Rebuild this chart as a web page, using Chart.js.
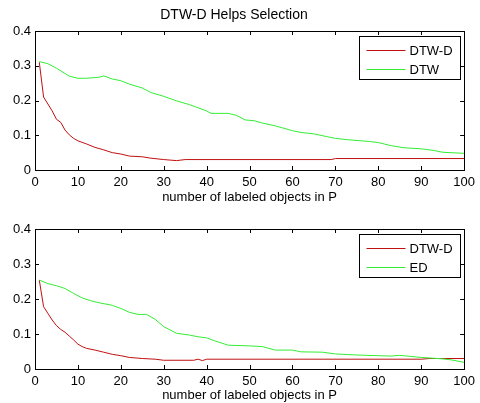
<!DOCTYPE html>
<html lang="en">
<head>
<meta charset="UTF-8">
<title>DTW-D Helps Selection</title>
<script src="https://cdn.jsdelivr.net/npm/chart.js"></script>
<style>
    body { margin: 0; background: #fff; }
    #wrap { position: relative; width: 480px; height: 403px; }
    canvas { position: absolute; left: 0; }
    #top { top: 0; }
    #bottom { top: 205px; }
</style>
</head>
<body>
<div id="wrap">
    <canvas id="top" width="480" height="205"></canvas>
    <canvas id="bottom" width="480" height="198"></canvas>
</div>
<script>
// top panel: DTW-D vs DTW
const topDtwdX = [1, 2, 3, 4, 5, 6, 7, 8, 9, 10, 12, 14, 16, 18, 20, 22, 25, 27, 30, 33, 35, 69, 70, 100];
const topDtwd = [0.31, 0.21, 0.19, 0.17, 0.146, 0.137, 0.115, 0.101, 0.091, 0.084, 0.075, 0.065, 0.058, 0.050, 0.046, 0.040, 0.038, 0.034, 0.030, 0.027, 0.030, 0.030, 0.033, 0.033];
const topDtwX = [1, 3, 5, 8, 10, 12, 15, 16, 18, 20, 22, 25, 27, 30, 33, 36, 40, 41, 45, 47, 49, 51, 53, 56, 58, 60, 62, 65, 68, 70, 73, 78, 80, 83, 86, 90, 93, 95, 100];
const topDtw = [0.312, 0.306, 0.293, 0.27, 0.264, 0.264, 0.267, 0.271, 0.262, 0.257, 0.247, 0.236, 0.223, 0.212, 0.199, 0.188, 0.170, 0.163, 0.163, 0.157, 0.144, 0.142, 0.135, 0.127, 0.120, 0.113, 0.108, 0.104, 0.096, 0.091, 0.087, 0.082, 0.079, 0.070, 0.064, 0.061, 0.056, 0.051, 0.048];

// bottom panel: DTW-D vs ED
const botDtwdX = [1, 2, 3, 4, 5, 6, 7, 8, 9, 10, 11, 12, 14, 16, 18, 20, 22, 25, 28, 30, 37, 38, 39, 40, 90, 92, 100];
const botDtwd = [0.254, 0.178, 0.159, 0.140, 0.124, 0.113, 0.105, 0.094, 0.083, 0.071, 0.064, 0.059, 0.054, 0.048, 0.042, 0.038, 0.033, 0.030, 0.028, 0.025, 0.025, 0.028, 0.024, 0.028, 0.028, 0.030, 0.030];
const botEdX = [1, 3, 5, 7, 9, 11, 13, 15, 18, 20, 22, 24, 26, 28, 30, 33, 36, 38, 40, 42, 45, 50, 53, 56, 60, 62, 67, 70, 75, 80, 83, 85, 90, 95, 97, 100];
const botEd = [0.254, 0.244, 0.238, 0.230, 0.216, 0.203, 0.195, 0.189, 0.182, 0.173, 0.162, 0.156, 0.156, 0.142, 0.121, 0.102, 0.097, 0.092, 0.089, 0.080, 0.068, 0.066, 0.064, 0.054, 0.054, 0.049, 0.048, 0.043, 0.040, 0.038, 0.037, 0.039, 0.033, 0.029, 0.026, 0.019];

const chartTitle = 'DTW-D Helps Selection';
const xTitle = 'number of labeled objects in P';

const RED = '#c01010';
const GREEN = '#33ee33';
const FONT = 'Arial, "Liberation Sans", sans-serif';

function pts(xs, ys) {
    return xs.map((x, i) => ({ x: x, y: ys[i] }));
}

// matlab style box with inward ticks on all four sides
const boxPlugin = {
    id: 'boxPlugin',
    afterDatasetsDraw(chart) {
        const ctx = chart.ctx;
        const a = chart.chartArea;
        const xs = chart.scales.x, ys = chart.scales.y;
        ctx.save();
        ctx.strokeStyle = '#000';
        ctx.lineWidth = 1;
        ctx.beginPath();
        xs.ticks.forEach(t => {
            const px = Math.round(xs.getPixelForValue(t.value)) + 0.5;
            ctx.moveTo(px, a.bottom); ctx.lineTo(px, a.bottom - 4);
            ctx.moveTo(px, a.top); ctx.lineTo(px, a.top + 4);
        });
        ys.ticks.forEach(t => {
            const py = Math.round(ys.getPixelForValue(t.value)) + 0.5;
            ctx.moveTo(a.left, py); ctx.lineTo(a.left + 4, py);
            ctx.moveTo(a.right, py); ctx.lineTo(a.right - 4, py);
        });
        ctx.stroke();
        ctx.strokeRect(Math.round(a.left) + 0.5, Math.round(a.top) + 0.5,
            Math.round(a.right - a.left), Math.round(a.bottom - a.top));
        ctx.restore();
    }
};

// legend box in the upper right corner
const legendPlugin = {
    id: 'boxLegend',
    afterDraw(chart) {
        const ctx = chart.ctx;
        const a = chart.chartArea;
        const w = 101, h = 43;
        const x0 = Math.round(a.right - 105) + 0.5;
        const y0 = Math.round(a.top + 5) + 0.5;
        ctx.save();
        ctx.fillStyle = '#fff';
        ctx.fillRect(x0, y0, w, h);
        ctx.strokeStyle = '#000';
        ctx.lineWidth = 1;
        ctx.strokeRect(x0, y0, w, h);
        ctx.font = '13px ' + FONT;
        ctx.textBaseline = 'middle';
        chart.data.datasets.forEach((ds, i) => {
            const yy = Math.round(y0 + 13 + i * 19) + 0.5;
            ctx.strokeStyle = ds.borderColor;
            ctx.lineWidth = 1;
            ctx.beginPath();
            ctx.moveTo(x0 + 7, yy);
            ctx.lineTo(x0 + 46, yy);
            ctx.stroke();
            ctx.fillStyle = '#000';
            ctx.fillText(ds.label, x0 + 50, yy + 1);
        });
        ctx.restore();
    }
};

function makeChart(id, datasets, withTitle, padTop, titlePadBottom) {
    return new Chart(document.getElementById(id), {
        type: 'line',
        data: { datasets: datasets },
        options: {
            responsive: false,
            animation: false,
            layout: { padding: { left: 0, right: 12, top: padTop, bottom: 0 } },
            plugins: {
                legend: { display: false },
                tooltip: { enabled: false },
                title: {
                    display: withTitle,
                    text: chartTitle,
                    color: '#000',
                    font: { family: FONT, size: 14, weight: 'normal', lineHeight: 1 },
                    padding: { top: 8, bottom: 9 }
                }
            },
            elements: { point: { radius: 0 }, line: { tension: 0 } },
            scales: {
                x: {
                    type: 'linear',
                    min: 0, max: 100,
                    grid: { display: false, drawTicks: false },
                    border: { display: false },
                    ticks: {
                        stepSize: 10, padding: 5, color: '#000',
                        font: { family: FONT, size: 13 }
                    },
                    title: {
                        display: true, text: xTitle, color: '#000',
                        font: { family: FONT, size: 13 },
                        padding: { top: 0, bottom: titlePadBottom }
                    },
                    afterFit: s => { s.height = 35 - (id === 'bottom' ? 1 : 0); }
                },
                y: {
                    min: 0, max: 0.4,
                    grid: { display: false, drawTicks: false },
                    border: { display: false },
                    ticks: {
                        stepSize: 0.1, padding: 4, color: '#000',
                        font: { family: FONT, size: 13 },
                        callback: v => (v === 0 ? '0' : v.toFixed(1))
                    },
                    afterFit: s => { s.width = 35; }
                }
            }
        },
        plugins: [boxPlugin, legendPlugin]
    });
}

makeChart('top', [
    { label: 'DTW-D', data: pts(topDtwdX, topDtwd), borderColor: RED, borderWidth: 1, order: 1 },
    { label: 'DTW', data: pts(topDtwX, topDtw), borderColor: GREEN, borderWidth: 1, order: 0 }
], true, 0, 0);

makeChart('bottom', [
    { label: 'DTW-D', data: pts(botDtwdX, botDtwd), borderColor: RED, borderWidth: 1, order: 1 },
    { label: 'ED', data: pts(botEdX, botEd), borderColor: GREEN, borderWidth: 1, order: 0 }
], false, 24, 0);
</script>
</body>
</html>
